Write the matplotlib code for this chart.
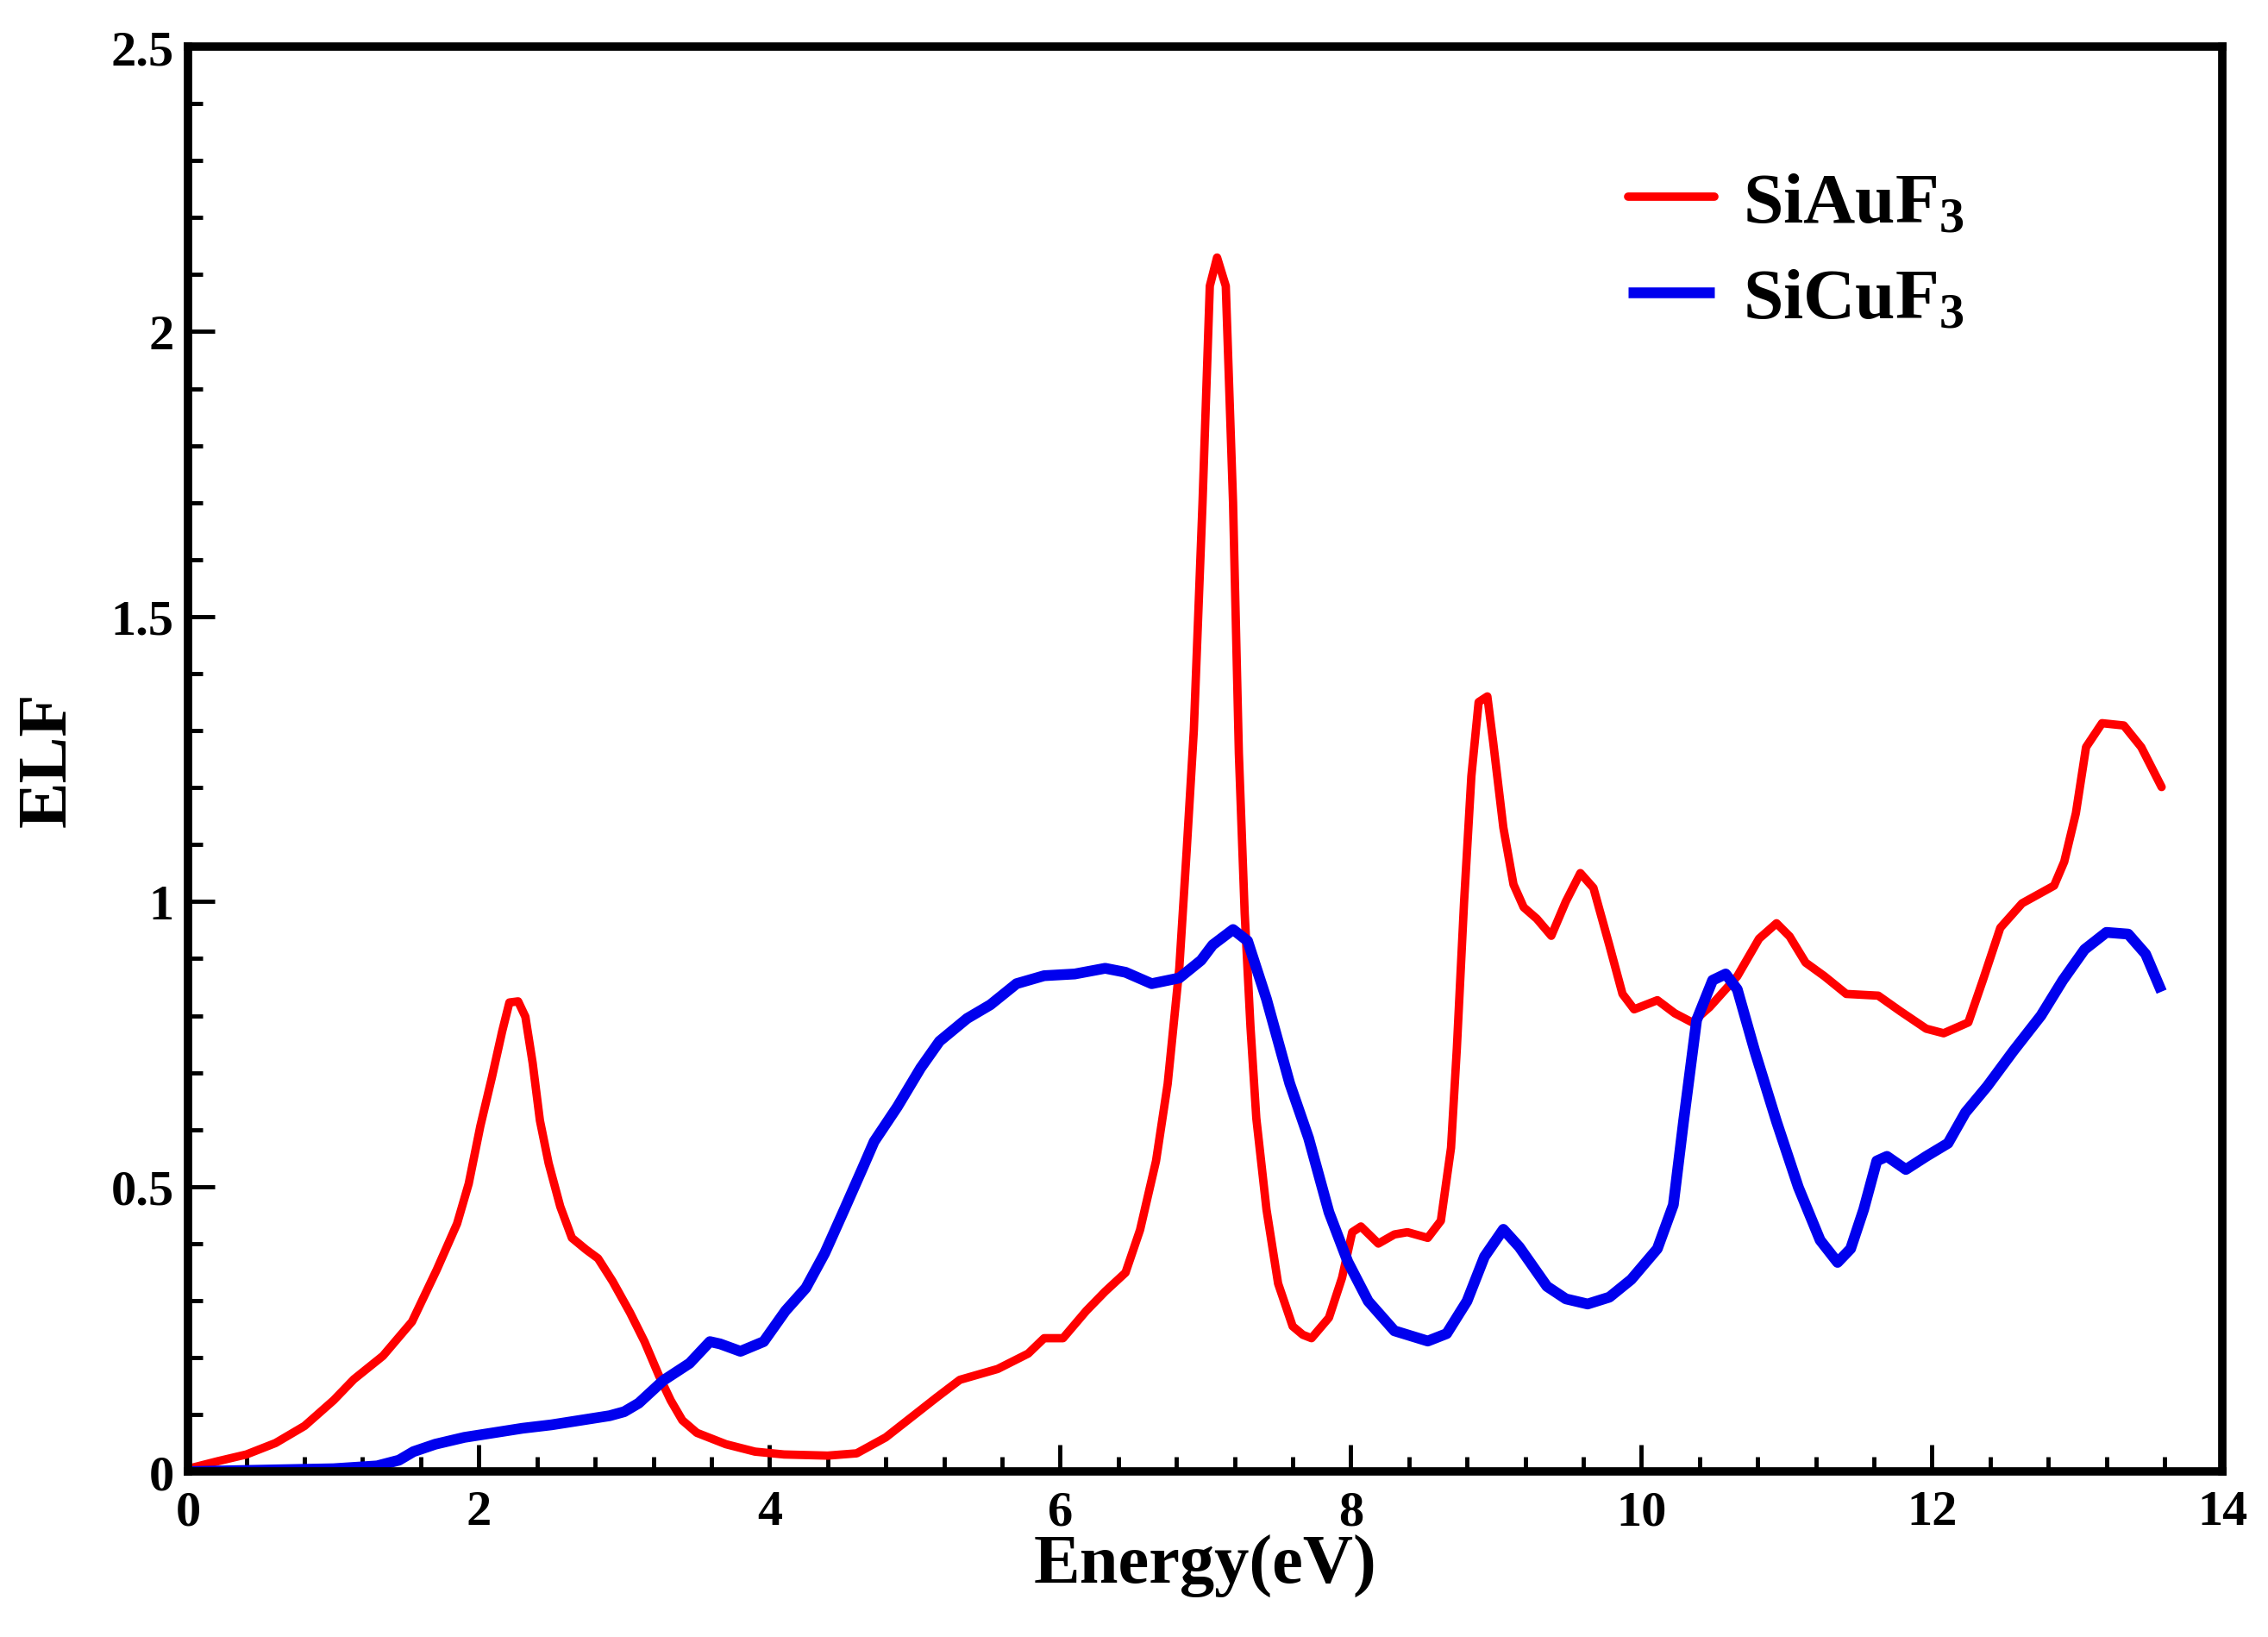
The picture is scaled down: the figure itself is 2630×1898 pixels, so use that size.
import numpy as np
import matplotlib.pyplot as plt
from matplotlib.ticker import MultipleLocator

plt.rcParams['font.family'] = ['Liberation Serif', 'DejaVu Serif']
plt.rcParams['font.weight'] = 'bold'
plt.rcParams['mathtext.fontset'] = 'custom'
plt.rcParams['mathtext.rm'] = 'Liberation Serif:bold'
plt.rcParams['mathtext.it'] = 'Liberation Serif:bold'
plt.rcParams['mathtext.bf'] = 'Liberation Serif:bold'

# SiAuF3 (rosu)
energie_au = [0.0, 0.2, 0.4, 0.6, 0.8, 1.0, 1.14, 1.34, 1.54, 1.71, 1.85, 1.93, 2.01, 2.09,
              2.16, 2.21, 2.27, 2.32, 2.37, 2.42, 2.48, 2.56, 2.64, 2.74, 2.82, 2.92, 3.04,
              3.14, 3.24, 3.32, 3.4, 3.5, 3.7, 3.9, 4.1, 4.4, 4.6, 4.8, 5.0, 5.15, 5.31,
              5.57, 5.78, 5.89, 6.02, 6.18, 6.31, 6.45, 6.55, 6.66, 6.74, 6.82, 6.87, 6.92,
              6.95, 6.98, 7.03, 7.08, 7.14, 7.19, 7.23, 7.27, 7.31, 7.35, 7.42, 7.5, 7.6,
              7.67, 7.73, 7.85, 7.94, 8.01, 8.07, 8.19, 8.3, 8.39, 8.53, 8.62, 8.69, 8.73,
              8.78, 8.83, 8.88, 8.94, 8.98, 9.05, 9.12, 9.19, 9.28, 9.38, 9.48, 9.58, 9.67,
              9.78, 9.87, 9.95, 10.11, 10.23, 10.35, 10.47, 10.66, 10.81, 10.93, 11.02,
              11.13, 11.26, 11.41, 11.63, 11.78, 11.96, 12.08, 12.25, 12.35, 12.47, 12.62,
              12.84, 12.91, 12.99, 13.06, 13.17, 13.32, 13.44, 13.58]
elf_au = [0.005, 0.018, 0.03, 0.05, 0.08, 0.125, 0.162, 0.203, 0.263, 0.354, 0.435, 0.505, 0.606, 0.692,
          0.772, 0.823, 0.825, 0.798, 0.717, 0.616, 0.541, 0.465, 0.41, 0.389, 0.374, 0.334, 0.279,
          0.228, 0.168, 0.125, 0.09, 0.068, 0.048, 0.035, 0.03, 0.028, 0.032, 0.06, 0.1, 0.13, 0.161,
          0.18, 0.207, 0.234, 0.234, 0.282, 0.316, 0.349, 0.424, 0.545, 0.68, 0.883, 1.086, 1.3,
          1.5, 1.7, 2.08, 2.13, 2.08, 1.7, 1.26, 0.98, 0.78, 0.62, 0.46, 0.33, 0.255,
          0.24, 0.234, 0.27, 0.34, 0.42, 0.43, 0.4, 0.416, 0.42, 0.41, 0.44, 0.568, 0.742,
          1.0, 1.22, 1.35, 1.36, 1.28, 1.13, 1.03, 0.99, 0.97, 0.94, 1.0, 1.05, 1.024,
          0.923, 0.838, 0.811, 0.827, 0.804, 0.788, 0.815, 0.869, 0.935, 0.962, 0.939,
          0.893, 0.869, 0.838, 0.835, 0.808, 0.777, 0.769, 0.788, 0.862, 0.954, 0.997,
          1.028, 1.07, 1.155, 1.271, 1.313, 1.309, 1.271, 1.201]

# SiCuF3 (albastru)
energie_cu = [0.0, 1.0, 1.3, 1.45, 1.55, 1.7, 1.9, 2.1, 2.3, 2.5, 2.7, 2.9, 3.0, 3.1, 3.27,
              3.45, 3.59, 3.66, 3.8, 3.96, 4.11, 4.25, 4.38, 4.51, 4.64, 4.72, 4.88, 5.04,
              5.17, 5.36, 5.52, 5.7, 5.89, 6.1, 6.31, 6.45, 6.63, 6.82, 6.97, 7.05, 7.19,
              7.29, 7.42, 7.58, 7.71, 7.85, 7.98, 8.12, 8.3, 8.53, 8.66, 8.8, 8.92, 9.05,
              9.16, 9.35, 9.48, 9.63, 9.78, 9.93, 10.11, 10.22, 10.29, 10.38, 10.49, 10.58,
              10.66, 10.78, 10.93, 11.08, 11.23, 11.35, 11.44, 11.53, 11.62, 11.69, 11.82,
              11.96, 12.11, 12.23, 12.38, 12.56, 12.75, 12.9, 13.05, 13.2, 13.35, 13.47, 13.58]
elf_cu = [0.0, 0.005, 0.01, 0.02, 0.035, 0.048, 0.06, 0.068, 0.076, 0.082, 0.09, 0.098, 0.105, 0.12, 0.16,
          0.19, 0.228, 0.224, 0.211, 0.228, 0.282, 0.322, 0.383, 0.457, 0.532, 0.579, 0.64, 0.708,
          0.755, 0.795, 0.819, 0.856, 0.87, 0.873, 0.883, 0.876, 0.856, 0.866, 0.897, 0.924, 0.951,
          0.931, 0.829, 0.681, 0.585, 0.455, 0.368, 0.299, 0.247, 0.229, 0.242, 0.299, 0.377, 0.425,
          0.394, 0.325, 0.303, 0.294, 0.306, 0.337, 0.391, 0.468, 0.614, 0.792, 0.862, 0.873,
          0.846, 0.738, 0.614, 0.499, 0.406, 0.367, 0.391, 0.46, 0.545, 0.553, 0.53,
          0.553, 0.576, 0.63, 0.676, 0.738, 0.8, 0.862, 0.916, 0.946, 0.943, 0.908, 0.842]

fig = plt.figure(figsize=(26.3, 18.99), dpi=100)
ax = fig.add_axes([0.083, 0.101, 0.897, 0.870])

ax.plot(energie_au, elf_au, color='#ff0000', lw=7, label=r'SiAuF$_3$',
        solid_joinstyle='round', solid_capstyle='round')
ax.plot(energie_cu, elf_cu, color='#0000ee', lw=9, label=r'SiCuF$_3$',
        solid_joinstyle='round', solid_capstyle='butt')

ax.set_xlim(0, 14)
ax.set_ylim(0, 2.5)
ax.xaxis.set_minor_locator(MultipleLocator(0.4))
ax.yaxis.set_minor_locator(MultipleLocator(0.1))
ax.set_xticks([0, 2, 4, 6, 8, 10, 12, 14])
ax.set_xticklabels(['0', '2', '4', '6', '8', '10', '12', '14'])
ax.set_yticks([0, 0.5, 1, 1.5, 2, 2.5])
ax.set_yticklabels(['0', '0.5', '1', '1.5', '2', '2.5'])

ax.tick_params(which='both', direction='in', top=False, right=False, width=3.5)
ax.tick_params(which='major', length=22, labelsize=42)
ax.tick_params(which='minor', length=12)
ax.tick_params(axis='x', which='major', pad=15)
ax.tick_params(axis='y', which='major', pad=12)
for s in ax.spines.values():
    s.set_linewidth(7)

ax.set_xlabel('Energy(eV)', fontsize=58, fontweight='bold', labelpad=0)
ax.set_ylabel('ELF', fontsize=58, fontweight='bold', labelpad=26)

ax.legend(loc='upper right', bbox_to_anchor=(0.905, 0.958), frameon=False, fontsize=60,
          handlelength=1.2, handletextpad=0.4, labelspacing=0.42)

fig.savefig('out.png', dpi=100)
